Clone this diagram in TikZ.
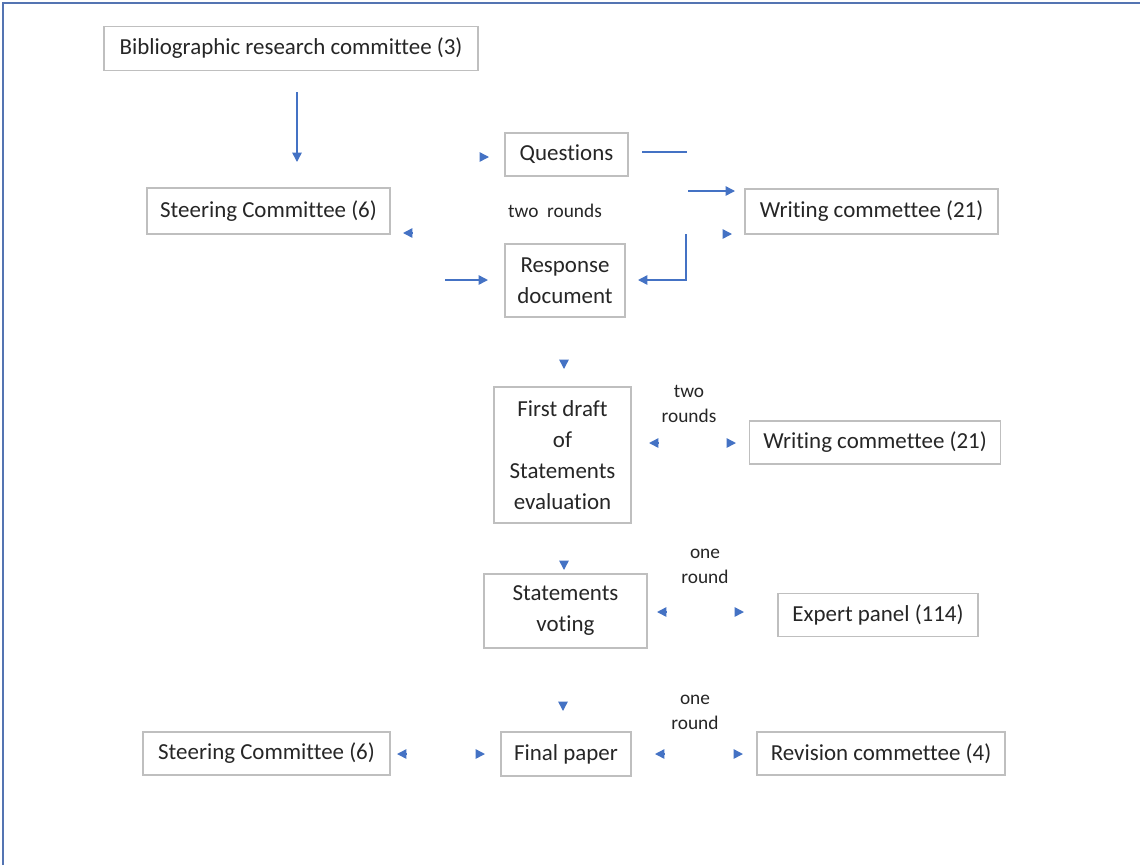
\documentclass[tikz,border=0pt]{standalone}
\usepackage{fontspec}
\setmainfont[Ligatures=NoCommon]{Carlito}
\usetikzlibrary{arrows.meta}
\definecolor{arrblue}{RGB}{68,114,196}
\definecolor{boxgray}{RGB}{191,191,191}
\definecolor{txt}{RGB}{38,38,38}
\definecolor{frameblue}{RGB}{84,116,178}
\begin{document}
\begin{tikzpicture}[x=0.75pt,y=-0.75pt,
  box/.style={draw=boxgray,line width=1.1pt,align=center,inner sep=0pt,text=txt,font=\fontsize{17.2}{23.25}\selectfont},
  sz/.style 2 args={minimum width=#1*0.75pt,minimum height=#2*0.75pt},
  lbl/.style={align=center,inner sep=0pt,text=txt,font=\fontsize{14.5}{18.75}\selectfont},
  conn/.style={draw=arrblue,line width=1.1pt},
  arr/.style={conn,-{Triangle[length=7pt,width=7pt]}}
]
\useasboundingbox (0,0) rectangle (1140,865);
\fill[white] (0,0) rectangle (1140,865);
\draw[frameblue,line width=1.5pt] (3,865) -- (3,3) -- (1140,3);

% boxes
\node[box,sz={374}{44}] (bib) at (291,48.5) {Bibliographic research committee (3)};
\node[box,sz={243}{46}] (steerA) at (268.5,211) {Steering Committee (6)};
\node[box,sz={123}{43}] (quest) at (566.5,154.5) {Questions};
\node[box,sz={120}{73}] (resp) at (565,280.5) {Response\\document};
\node[box,sz={253}{45}] (writeA) at (871.5,211.5) {Writing commettee (21)};
\node[box,sz={137}{136}] (draft) at (562.5,455) {First draft\\of\\Statements\\evaluation};
\node[box,sz={251}{43}] (writeB) at (875,442.5) {Writing commettee (21)};
\node[box,sz={163}{74}] (vote) at (565.5,611) {Statements\\voting};
\node[box,sz={200}{43}] (expert) at (878,615) {Expert panel (114)};
\node[box,sz={247}{43}] (steerB) at (266.5,753.5) {Steering Committee (6)};
\node[box,sz={130}{44}] (final) at (566,754) {Final paper};
\node[box,sz={248}{43}] (revis) at (881,753.5) {Revision commettee (4)};

% labels
\node[lbl] (r1) at (555,211) {two\ \ rounds};
\node[lbl] (r2) at (689,404) {two\\rounds};
\node[lbl] (r3) at (705,566) {one\\round};
\node[lbl] (r4) at (695,712) {one\\round};

% connector end points
\coordinate (a1) at (297,92);  \coordinate (a2) at (297,162);
\coordinate (b1) at (489,157);
\coordinate (c1) at (642,152); \coordinate (c2) at (687,152);
\coordinate (d1) at (688,191); \coordinate (d2) at (735,191);
\coordinate (e1) at (403,233);
\coordinate (f1) at (732,234);
\coordinate (g1) at (686,234); \coordinate (g2) at (638,280);
\coordinate (h1) at (445,280); \coordinate (h2) at (488,280);
\coordinate (i1) at (564,369);
\coordinate (j1) at (649,443); \coordinate (j2) at (736,443);
\coordinate (k1) at (564,570);
\coordinate (l1) at (657,612); \coordinate (l2) at (744,612);
\coordinate (m1) at (563,711);
\coordinate (n1) at (397,754); \coordinate (n2) at (485,754);
\coordinate (n3) at (655,754); \coordinate (n4) at (743,754);

% connectors
\draw[arr] (a1) -- (a2);
\draw[arr] (b1) ++(-9,0) -- (b1);
\draw[conn] (c1) -- (c2);
\draw[arr] (d1) -- (d2);
\draw[arr] (e1) ++(9,0) -- (e1);
\draw[arr] (f1) ++(-9,0) -- (f1);
\draw[arr] (g1) |- (g2);
\draw[arr] (h1) -- (h2);
\draw[arr] (i1) ++(0,-9) -- (i1);
\draw[arr] (j1) ++(9,0) -- (j1);
\draw[arr] (j2) ++(-9,0) -- (j2);
\draw[arr] (k1) ++(0,-9) -- (k1);
\draw[arr] (l1) ++(9,0) -- (l1);
\draw[arr] (l2) ++(-9,0) -- (l2);
\draw[arr] (m1) ++(0,-9) -- (m1);
\draw[arr] (n1) ++(9,0) -- (n1);
\draw[arr] (n2) ++(-9,0) -- (n2);
\draw[arr] (n3) ++(9,0) -- (n3);
\draw[arr] (n4) ++(-9,0) -- (n4);
\end{tikzpicture}
\end{document}
